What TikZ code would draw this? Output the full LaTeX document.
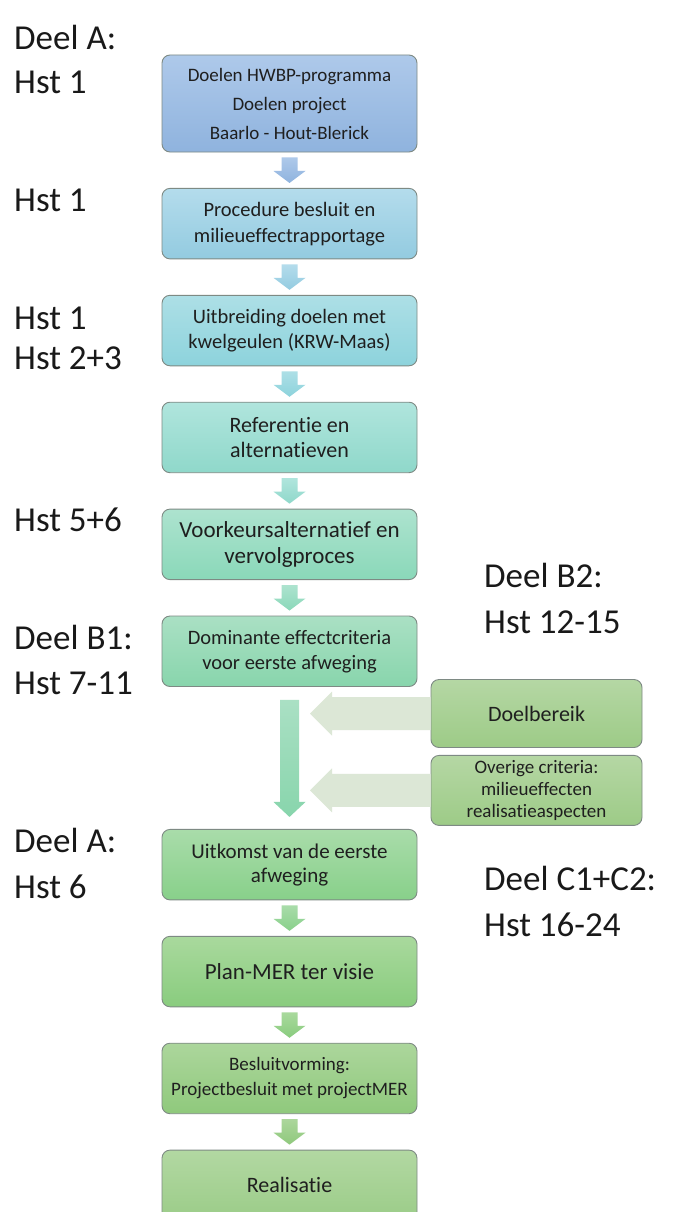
\documentclass[tikz,border=0pt]{standalone}
\usepackage{fontspec}
\setmainfont{Carlito}[Ligatures=NoCommon]
\usetikzlibrary{positioning,calc}

\definecolor{rim}{HTML}{7E8A84}
\definecolor{sidegreen}{HTML}{DCE7D6}
\newcommand{\fs}[2]{\fontsize{#1}{#2}\selectfont}

% filled block arrow between two stacked boxes
\newcommand{\stepdown}[4]{%
  \path[top color=#3,bottom color=#4] let \p1=(#1.south), \p2=(#2.north) in
    (\x1-8pt,\y1-5pt) -- (\x1+8pt,\y1-5pt) -- (\x1+8pt,\y2+17pt) -- (\x1+16pt,\y2+17pt)
    -- (\x1,\y2+5pt) -- (\x1-16pt,\y2+17pt) -- (\x1-8pt,\y2+17pt) -- cycle;}

% wide pale arrow from a side box to the long arrow
\newcommand{\sidearrow}[2]{%
  \fill[sidegreen] let \p1=(#1.west), \p2=(#2) in
    (\x1,\y1+16.5pt) -- (\x2+22pt,\y1+16.5pt) -- (\x2+22pt,\y1+22pt) -- (\x2,\y1)
    -- (\x2+22pt,\y1-22pt) -- (\x2+22pt,\y1-16.5pt) -- (\x1,\y1-16.5pt) -- cycle;}

\begin{document}
\begin{tikzpicture}[x=1pt,y=1pt,
  box/.style={rectangle,draw=rim,line width=0.9pt,rounded corners=8pt,minimum width=255pt,
    minimum height=70.5pt,align=center,text=black!88},
  side/.style={box,minimum width=211pt,minimum height=68pt,top color=sb1,bottom color=sb2},
  tone/.style 2 args={top color=#1,bottom color=#2},
  lbl/.style={anchor=west,inner sep=0pt,font=\fs{35}{42},text=black!90},
  node distance=35.5pt
]
\definecolor{b1t}{HTML}{AEC9EA}\definecolor{b1b}{HTML}{8FB3DE}
\definecolor{b2t}{HTML}{B4DCEC}\definecolor{b2b}{HTML}{93CBE0}
\definecolor{b3t}{HTML}{ADDFE6}\definecolor{b3b}{HTML}{8DD3DC}
\definecolor{b4t}{HTML}{B0E5DD}\definecolor{b4b}{HTML}{8FD8CA}
\definecolor{b5t}{HTML}{ADE3CF}\definecolor{b5b}{HTML}{8AD8B9}
\definecolor{b6t}{HTML}{AAE0C4}\definecolor{b6b}{HTML}{88D5AC}
\definecolor{b7t}{HTML}{A9DCAA}\definecolor{b7b}{HTML}{88D08A}
\definecolor{b8t}{HTML}{A9D99D}\definecolor{b8b}{HTML}{89CC7E}
\definecolor{b9t}{HTML}{ACD69C}\definecolor{b9b}{HTML}{8FC97C}
\definecolor{b10t}{HTML}{B2D8A2}\definecolor{b10b}{HTML}{9BCC88}
\definecolor{sb1}{HTML}{B5D7A4}\definecolor{sb2}{HTML}{9DCB87}
\useasboundingbox[fill=white] (0,0) rectangle (673,-1212);

\node[box,minimum height=97pt,tone={b1t}{b1b},font=\fs{19}{29}] (doelen) at (289.5,-103.5)
  {Doelen HWBP-programma\\Doelen project\\Baarlo - Hout-Blerick};
\node[box,tone={b2t}{b2b},font=\fs{20.5}{26},below=of doelen] (procedure)
  {Procedure besluit en\\milieueffectrapportage};
\node[box,tone={b3t}{b3b},font=\fs{20.5}{25},below=of procedure] (uitbreiding)
  {Uitbreiding doelen met\\kwelgeulen (KRW-Maas)};
\node[box,tone={b4t}{b4b},font=\fs{22}{25},below=of uitbreiding] (referentie)
  {Referentie en\\alternatieven};
\node[box,tone={b5t}{b5b},font=\fs{23}{26},below=of referentie] (voorkeur)
  {Voorkeursalternatief en\\vervolgproces};
\node[box,tone={b6t}{b6b},font=\fs{20.5}{25},below=of voorkeur] (dominant)
  {Dominante effectcriteria\\voor eerste afweging};
\node[box,tone={b7t}{b7b},font=\fs{21}{24},below=142pt of dominant] (uitkomst)
  {Uitkomst van de eerste\\afweging};
\node[box,tone={b8t}{b8b},font=\fs{23}{26},below=of uitkomst] (planmer)
  {Plan-MER ter visie};
\node[box,tone={b9t}{b9b},font=\fs{19}{25},below=of planmer] (besluit)
  {Besluitvorming:\\Projectbesluit met projectMER};
\node[box,tone={b10t}{b10b},font=\fs{22}{26},below=of besluit] (realisatie)
  {Realisatie};

\node[side,font=\fs{22}{26}] (doelbereik) at (536.5,-713.5) {Doelbereik};
\node[side,minimum height=70pt,font=\fs{19}{22},below=7pt of doelbereik] (overige)
  {Overige criteria:\\milieueffecten\\realisatieaspecten};

% arrows down the column
\stepdown{doelen}{procedure}{b1t}{b1b}
\stepdown{procedure}{uitbreiding}{b2t}{b2b}
\stepdown{uitbreiding}{referentie}{b3t}{b3b}
\stepdown{referentie}{voorkeur}{b4t}{b4b}
\stepdown{voorkeur}{dominant}{b5t}{b5b}
\stepdown{uitkomst}{planmer}{b7t}{b7b}
\stepdown{planmer}{besluit}{b8t}{b8b}
\stepdown{besluit}{realisatie}{b9t}{b9b}

% long arrow with the side inputs
\path[top color=b6t,bottom color=b6b] let \p1=(dominant.south), \p2=(uitkomst.north) in
  (\x1-9.5pt,\y1-13pt) -- (\x1+9.5pt,\y1-13pt) -- (\x1+9.5pt,\y2+27pt) -- (\x1+16pt,\y2+27pt)
  -- (\x1,\y2+12pt) -- (\x1-16pt,\y2+27pt) -- (\x1-9.5pt,\y2+27pt) -- cycle;
\coordinate (stem) at ($(dominant.south)+(20.5pt,0)$);
\sidearrow{doelbereik}{stem}
\sidearrow{overige}{stem}

% chapter labels
\node[lbl] (deelA) at (14,-37) {Deel A:};
\node[lbl] (hstA) at (14,-82) {Hst 1};
\node[lbl] (hstB) at (14,-200) {Hst 1};
\node[lbl] (hstC) at (14,-318) {Hst 1};
\node[lbl] (hstD) at (14,-358) {Hst 2+3};
\node[lbl] (hstE) at (14,-520) {Hst 5+6};
\node[lbl] (deelB1) at (14,-637) {Deel B1:};
\node[lbl] (hstF) at (14,-683) {Hst 7-11};
\node[lbl] (deelA2) at (14,-840) {Deel A:};
\node[lbl] (hstG) at (14,-887) {Hst 6};
\node[lbl] (deelB2) at (484,-575) {Deel B2:};
\node[lbl] (hstH) at (484,-622) {Hst 12-15};
\node[lbl] (deelC) at (484,-878) {Deel C1+C2:};
\node[lbl] (hstI) at (484,-925) {Hst 16-24};
\end{tikzpicture}
\end{document}
